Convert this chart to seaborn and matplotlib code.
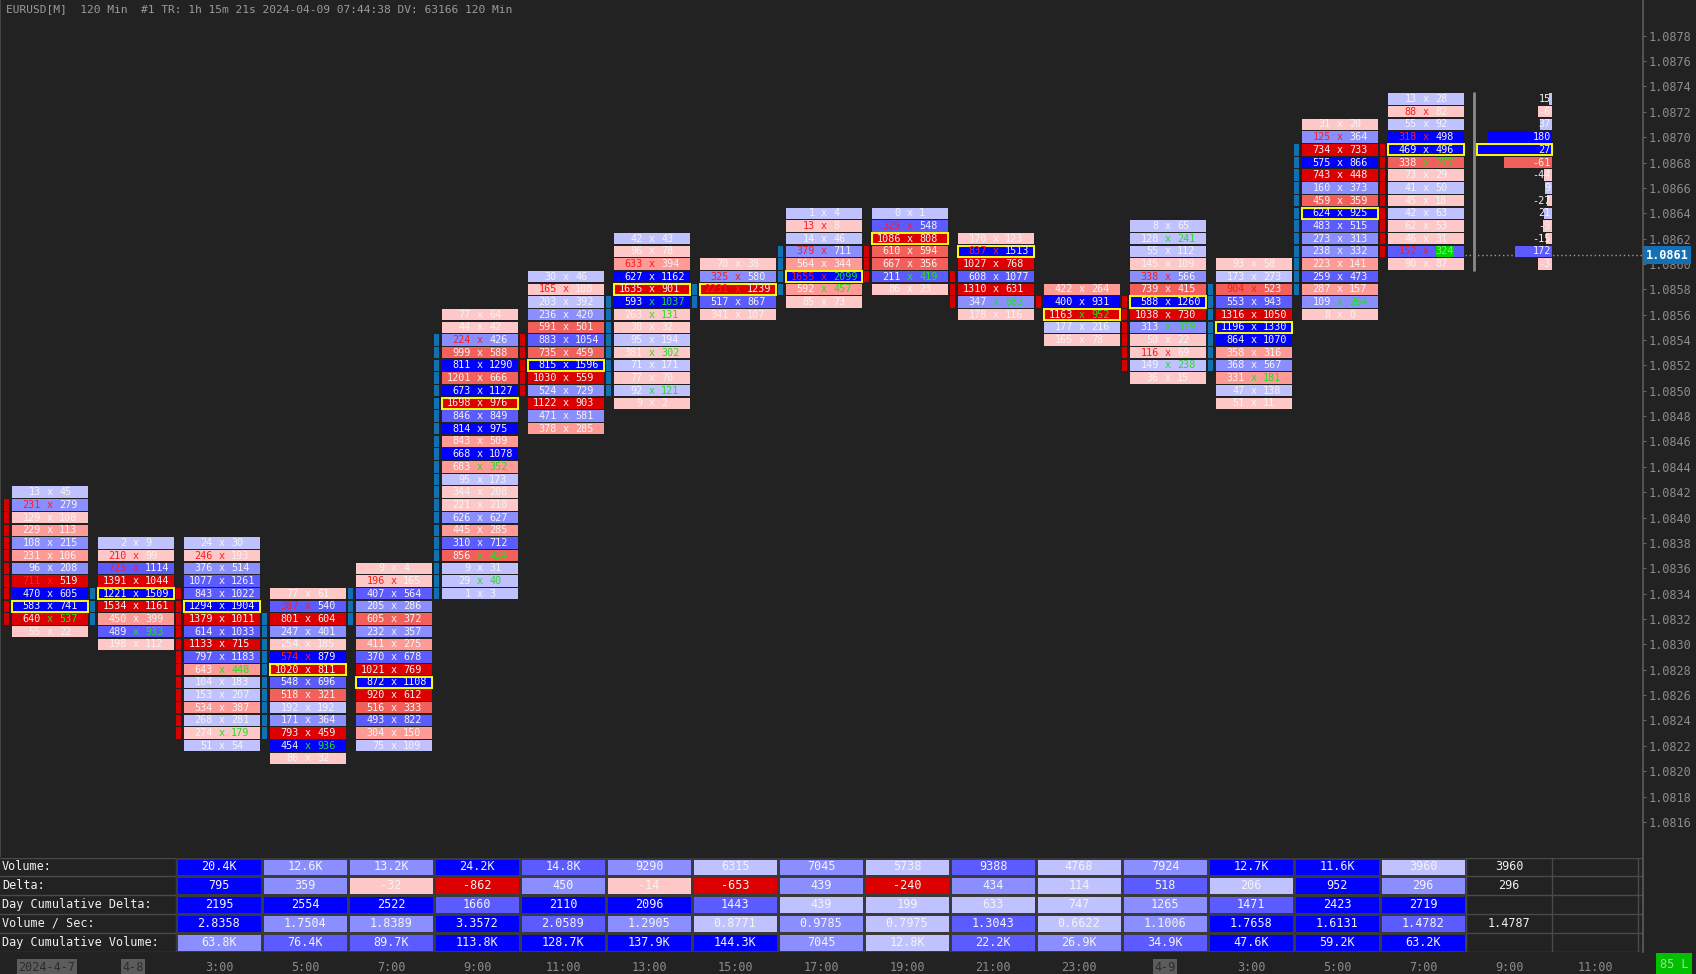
import matplotlib
matplotlib.use("Agg")
import matplotlib.pyplot as plt
from matplotlib.colors import ListedColormap
import numpy as np
import seaborn as sns

# ---------------------------------------------------------------- data
TICK = 0.0001
RATIO = 3.0

COL_TOP = [1.0842, 1.0838, 1.0838, 1.0834, 1.0836, 1.0856, 1.0859, 1.0862, 1.0860,
           1.0864, 1.0864, 1.0862, 1.0858, 1.0863, 1.0860, 1.0871, 1.0873]

C01_BID = [13, 231, 129, 229, 108, 231, 96, 711, 470, 583, 640, 55]
C01_ASK = [45, 279, 108, 113, 215, 106, 208, 519, 605, 741, 537, 22]
C02_BID = [2, 210, 725, 1391, 1221, 1534, 450, 489, 198]
C02_ASK = [9, 99, 1114, 1044, 1509, 1161, 399, 933, 112]
C03_BID = [24, 246, 376, 1077, 843, 1294, 1379, 614, 1133, 797, 643, 104, 153, 534, 268, 274, 51]
C03_ASK = [30, 193, 514, 1261, 1022, 1904, 1011, 1033, 715, 1183, 448, 183, 207, 387, 281, 179, 54]
C04_BID = [77, 387, 801, 247, 254, 574, 1020, 548, 518, 192, 171, 793, 454, 86]
C04_ASK = [61, 540, 604, 401, 185, 879, 811, 696, 321, 192, 364, 459, 936, 32]
C05_BID = [9, 196, 407, 205, 605, 232, 411, 370, 1021, 872, 920, 516, 493, 304, 75]
C05_ASK = [4, 165, 564, 286, 372, 357, 275, 678, 769, 1108, 612, 333, 822, 150, 109]
C06_BID = [77, 44, 224, 999, 811, 1201, 673, 1698, 846, 814, 843, 668, 683, 95, 344, 221,
           626, 445, 310, 856, 9, 29, 1]
C06_ASK = [64, 42, 426, 588, 1290, 666, 1127, 976, 849, 975, 509, 1078, 352, 173, 208, 210,
           627, 285, 712, 424, 31, 40, 3]
C07_BID = [30, 165, 203, 236, 591, 883, 735, 815, 1030, 524, 1122, 471, 378]
C07_ASK = [46, 108, 392, 420, 501, 1054, 459, 1596, 559, 729, 903, 581, 285]
C08_BID = [42, 96, 633, 627, 1635, 593, 263, 38, 95, 381, 71, 77, 92, 9]
C08_ASK = [43, 78, 394, 1162, 901, 1037, 131, 32, 194, 302, 171, 70, 121, 2]
C09_BID = [70, 325, 2231, 517, 341]
C09_ASK = [38, 580, 1239, 867, 107]
C10_BID = [1, 13, 14, 379, 564, 1655, 592, 85]
C10_ASK = [4, 8, 46, 711, 344, 2099, 457, 73]
C11_BID = [0, 329, 1086, 610, 667, 211, 86]
C11_ASK = [1, 548, 808, 594, 356, 419, 23]
C12_BID = [170, 837, 1027, 608, 1310, 347, 178]
C12_ASK = [123, 1513, 768, 1077, 631, 683, 116]
C13_BID = [422, 400, 1163, 177, 165]
C13_ASK = [264, 931, 952, 216, 78]
C14_BID = [8, 128, 55, 145, 338, 739, 588, 1038, 313, 50, 116, 149, 36]
C14_ASK = [65, 241, 112, 109, 566, 415, 1260, 730, 379, 22, 69, 238, 15]
C15_BID = [93, 173, 904, 553, 1316, 1196, 864, 358, 368, 331, 47, 51]
C15_ASK = [58, 273, 523, 943, 1050, 1330, 1070, 316, 567, 181, 138, 11]
C16_BID = [31, 125, 734, 575, 743, 160, 459, 624, 483, 273, 238, 223, 259, 287, 109, 8]
C16_ASK = [20, 364, 733, 866, 448, 373, 359, 925, 515, 313, 332, 141, 473, 157, 264, 0]
C17_BID = [13, 88, 55, 318, 469, 338, 73, 41, 45, 42, 62, 46, 152, 90]
C17_ASK = [28, 82, 92, 498, 496, 277, 29, 50, 18, 63, 53, 31, 324, 87]

BIDS = [C01_BID, C02_BID, C03_BID, C04_BID, C05_BID, C06_BID, C07_BID, C08_BID, C09_BID,
        C10_BID, C11_BID, C12_BID, C13_BID, C14_BID, C15_BID, C16_BID, C17_BID]
ASKS = [C01_ASK, C02_ASK, C03_ASK, C04_ASK, C05_ASK, C06_ASK, C07_ASK, C08_ASK, C09_ASK,
        C10_ASK, C11_ASK, C12_ASK, C13_ASK, C14_ASK, C15_ASK, C16_ASK, C17_ASK]

OPENS = [1.0841, 1.0832, 1.0834, 1.0823, 1.0832, 1.0834, 1.0854, 1.0850, 1.0857,
         1.0858, 1.0861, 1.0859, 1.0857, 1.0857, 1.0852, 1.0858, 1.0869]
CLOSES = [1.0832, 1.0834, 1.0823, 1.0832, 1.0834, 1.0854, 1.0850, 1.0857, 1.0858,
          1.0861, 1.0859, 1.0857, 1.0857, 1.0852, 1.0858, 1.0869, 1.0861]

CURRENT_PRICE = 1.08607
PROFILE_DELTA = [15, -6, 37, 180, 27, -61, -44, 9, -27, 21, -9, -15, 172, -3]

TIME_LABELS = ["2024-4-7", "4-8", "3:00", "5:00", "7:00", "9:00", "11:00", "13:00", "15:00",
               "17:00", "19:00", "21:00", "23:00", "4-9", "3:00", "5:00", "7:00", "9:00", "11:00"]
DATE_LABELS = ["2024-4-7", "4-8", "4-9"]

TABLE_ROWS = ["Volume:", "Delta:", "Day Cumulative Delta:", "Volume / Sec:", "Day Cumulative Volume:"]
VOLUME = [20400, 12600, 13200, 24200, 14800, 9290, 6315, 7045, 5738, 9388, 4768, 7924, 12700, 11600, 3960]
DELTA = [795, 359, -32, -862, 450, -14, -653, 439, -240, 434, 114, 518, 206, 952, 296]
DAY_CUM_DELTA = [2195, 2554, 2522, 1660, 2110, 2096, 1443, 439, 199, 633, 747, 1265, 1471, 2423, 2719]
VOL_PER_SEC = [2.8358, 1.7504, 1.8389, 3.3572, 2.0589, 1.2905, 0.8771, 0.9785, 0.7975, 1.3043,
               0.6622, 1.1006, 1.7658, 1.6131, 1.4782]
DAY_CUM_VOLUME = [63800, 76400, 89700, 113800, 128700, 137900, 144300, 7045, 12800, 22200,
                  26900, 34900, 47600, 59200, 63200]
VOLUME_SHADE = [4, 2, 2, 4, 3, 2, 1, 2, 1, 3, 1, 2, 4, 4, 1]
DELTA_SHADE = [4, 2, 1, 4, 2, 1, 4, 2, 4, 2, 1, 3, 1, 4, 2]
DCD_SHADE = [4, 4, 4, 3, 4, 4, 3, 1, 1, 1, 1, 2, 3, 4, 4]
VPS_SHADE = [4, 2, 2, 4, 3, 2, 1, 2, 1, 3, 1, 2, 4, 4, 3]
DCV_SHADE = [2, 3, 3, 4, 4, 4, 4, 2, 1, 3, 2, 3, 4, 4, 4]
LIVE_VOLUME = 3960
LIVE_DELTA = 296
LIVE_VPS = 1.4787

HEADER = "EURUSD[M]  120 Min  #1 TR: 1h 15m 21s 2024-04-09 07:44:38 DV: 63166 120 Min"
STATUS = "85 L"

# ---------------------------------------------------------------- style
sns.set_theme(style="dark")
BG = "#222222"
plt.rcParams["font.family"] = ["DejaVu Sans Mono", "DejaVu Sans"]
plt.rcParams["figure.facecolor"] = BG
plt.rcParams["axes.facecolor"] = BG

BLUES = {1: "#c0c2ff", 2: "#8b8eff", 3: "#5b5bff", 4: "#0000ff"}
REDS = {1: "#ffc8c8", 2: "#ff9b97", 3: "#f2605b", 4: "#dc0000"}
TXT = "#f4f4f4"
TXT_RED = "#ff1c1c"
TXT_GREEN = "#22e022"
YELLOW = "#ffff00"
STRIP_BLUE = "#1070b0"
STRIP_RED = "#d40000"
AXIS_TXT = "#8c8c8c"

W, H = 1696, 974
fig = plt.figure(figsize=(W / 100, H / 100), dpi=100)

PX_PER_TICK = 12.68
REF_PRICE, REF_PX = 1.0878, 35.7
COL0_PX, PITCH = 50.0, 86.0
MAIN_BOTTOM_PX = 856.0
AXIS_RIGHT_PX = 1643.0
TAB_TOP_PX, TAB_BOT_PX = 857.5, 951.5

p_top = REF_PRICE + REF_PX / PX_PER_TICK * TICK
p_bot = REF_PRICE - (MAIN_BOTTOM_PX - REF_PX) / PX_PER_TICK * TICK
x_lo = -COL0_PX / PITCH
x_hi = (AXIS_RIGHT_PX - COL0_PX) / PITCH

CELL_W = 76 / PITCH
ROW_H = 0.9 * TICK
TXT_OFF = 9.2 / PITCH
FS_CELL = 7.3


def level(frac):
    return 1 if frac < 0.25 else 2 if frac < 0.5 else 3 if frac < 0.75 else 4


def cell_colors(bids, asks):
    mb, ma = max(bids), max(asks)
    return [BLUES[level(a / ma)] if a >= b else REDS[level(b / mb)] for b, a in zip(bids, asks)]


ax = fig.add_axes([0, 1 - MAIN_BOTTOM_PX / H, AXIS_RIGHT_PX / W, MAIN_BOTTOM_PX / H])
ax.set_xlim(x_lo, x_hi)
ax.set_ylim(p_bot, p_top)
ax.set_facecolor(BG)
ax.grid(False)

live_row_price = round(CURRENT_PRICE, 4)

# ---------------------------------------------------------------- footprint columns
for c, (bids, asks) in enumerate(zip(BIDS, ASKS)):
    n = len(bids)
    prices = COL_TOP[c] - TICK * np.arange(n)
    colors = cell_colors(bids, asks)
    ax.barh(prices, CELL_W, left=c - CELL_W / 2, height=ROW_H, color=colors, linewidth=0, zorder=2)
    vol = np.array(bids) + np.array(asks)
    poc = int(np.argmax(vol))
    ax.barh(prices[poc], CELL_W, left=c - CELL_W / 2, height=ROW_H * 0.97, fill=False,
            edgecolor=YELLOW, linewidth=1.4, zorder=3)
    is_live = c == len(BIDS) - 1
    for i in range(n):
        bid_imb = i > 0 and bids[i] >= RATIO * asks[i - 1]
        ask_imb = i < n - 1 and asks[i] >= RATIO * bids[i + 1]
        bc = TXT_RED if bid_imb else TXT
        ac = TXT_GREEN if ask_imb else TXT
        xc = TXT_RED if bid_imb else (TXT_GREEN if ask_imb else TXT)
        y = prices[i]
        if is_live and abs(y - live_row_price) < TICK / 4:
            # current ask highlighted on the live bar
            ax.barh(y, 18 / PITCH, left=c + 10 / PITCH, height=ROW_H, color="#00d400",
                    linewidth=0, zorder=3)
            ac = "#6dff6d"
        ax.text(c - TXT_OFF, y, str(bids[i]), ha="right", va="center", color=bc, fontsize=FS_CELL, zorder=4)
        ax.text(c, y, "x", ha="center", va="center", color=xc, fontsize=FS_CELL, zorder=4)
        ax.text(c + TXT_OFF, y, str(asks[i]), ha="left", va="center", color=ac, fontsize=FS_CELL, zorder=4)
    # candle body strip
    lo, hi = min(OPENS[c], CLOSES[c]), max(OPENS[c], CLOSES[c])
    cnt = int(round((hi - lo) / TICK)) + 1
    sp = lo + TICK * np.arange(cnt)
    scol = STRIP_BLUE if CLOSES[c] > OPENS[c] else STRIP_RED
    ax.barh(sp, 5 / PITCH, left=c - 46 / PITCH, height=ROW_H, color=scol, linewidth=0, zorder=2)

# ---------------------------------------------------------------- delta profile of the live bar
last = len(BIDS) - 1
lb, la = np.array(BIDS[last]), np.array(ASKS[last])
lprices = COL_TOP[last] - TICK * np.arange(len(lb))
lvol = lb + la
PROF_RIGHT = (1551.7 - COL0_PX) / PITCH
PROF_W = 75 / PITCH
widths = PROF_W * lvol / lvol.max()
ax.barh(lprices, widths, left=PROF_RIGHT - widths, height=ROW_H,
        color=cell_colors(BIDS[last], ASKS[last]), linewidth=0, zorder=2)
ppoc = int(np.argmax(lvol))
ax.barh(lprices[ppoc], PROF_W, left=PROF_RIGHT - PROF_W, height=ROW_H * 0.97, fill=False,
        edgecolor=YELLOW, linewidth=1.4, zorder=3)
for y, d in zip(lprices, PROFILE_DELTA):
    ax.text(PROF_RIGHT - 1 / PITCH, y, str(d), ha="right", va="center", color=TXT, fontsize=FS_CELL, zorder=4)
sep_x = (1474 - COL0_PX) / PITCH
ax.plot([sep_x, sep_x], [lprices[-1] - TICK / 2, lprices[0] + TICK / 2], color="#8a8a8a", lw=2, zorder=3)
ax.plot([(1465 - COL0_PX) / PITCH, x_hi], [CURRENT_PRICE, CURRENT_PRICE], color="#9a9a9a",
        lw=1, dashes=(1, 2), zorder=1)

# ---------------------------------------------------------------- price axis
ax.yaxis.tick_right()
ticks = np.round(np.arange(1.0816, 1.08781, 0.0002), 4)
ax.set_yticks(ticks)
ax.set_yticklabels([f"{t:.4f}" for t in ticks])
ax.tick_params(axis="y", colors="#666666", labelcolor=AXIS_TXT, labelsize=8.6, length=2.5, pad=1.5, width=0.8)
ax.set_xticks([])
for s in ["top", "bottom"]:
    ax.spines[s].set_visible(False)
ax.spines["right"].set_color("#5a5a5a")
ax.spines["left"].set_color("#4a4a4a")
ax.annotate(f"{CURRENT_PRICE:.4f}", xy=(1, CURRENT_PRICE), xycoords=("axes fraction", "data"),
            xytext=(2.2, 0), textcoords="offset points", ha="left", va="center", color="white",
            fontsize=8.6, fontweight="bold", zorder=6,
            bbox=dict(boxstyle="square,pad=0.22", fc="#1470b4", ec="none"))

# ---------------------------------------------------------------- statistics table
tab = fig.add_axes([0, 1 - TAB_BOT_PX / H, AXIS_RIGHT_PX / W, (TAB_BOT_PX - TAB_TOP_PX) / H])
tab.set_xlim(x_lo, x_hi)
tab.set_ylim(5, 0)
tab.set_facecolor(BG)
tab.grid(False)
for s in ["top", "bottom", "left"]:
    tab.spines[s].set_visible(False)
tab.spines["right"].set_color("#5a5a5a")
for r in range(6):
    tab.plot([x_lo, x_hi], [r, r], color="#4a4a4a", lw=1, zorder=1)
for c in range(2, 20):
    tab.plot([c - 46 / PITCH] * 2, [0, 5], color="#4a4a4a", lw=1, zorder=1)
for r, lab in enumerate(TABLE_ROWS):
    tab.text(x_lo + 2 / PITCH, r + 0.5, lab, ha="left", va="center", color="#f0f0f0", fontsize=8.5)
live = [str(LIVE_VOLUME), str(LIVE_DELTA), "", f"{LIVE_VPS:.4f}", ""]
for r, s in enumerate(live):
    tab.text(17 - 3 / PITCH, r + 0.5, s, ha="center", va="center", color="#f0f0f0", fontsize=8.5)
tab.set_yticks([])
tab.set_xticks([c - 3 / PITCH for c in range(len(TIME_LABELS))])
tab.set_xticklabels(TIME_LABELS)
tab.tick_params(axis="x", colors="#666666", labelcolor=AXIS_TXT, labelsize=8.5, length=3, pad=3.5)
for lbl, t in zip(tab.get_xticklabels(), TIME_LABELS):
    if t in DATE_LABELS:
        lbl.set_bbox(dict(facecolor="#5c5c5c", edgecolor="none", pad=1.2))
        lbl.set_color("#2c2c2c")


def kfmt(v):
    return f"{v / 1000:.1f}K" if v >= 10000 else f"{int(v)}"


txt = np.array([
    [kfmt(v) for v in VOLUME],
    [str(v) for v in DELTA],
    [str(v) for v in DAY_CUM_DELTA],
    [f"{v:.4f}" for v in VOL_PER_SEC],
    [kfmt(v) for v in DAY_CUM_VOLUME],
])
signs = np.array([np.ones(15), np.sign(DELTA), np.sign(DAY_CUM_DELTA), np.ones(15), np.ones(15)])
levels = np.array([VOLUME_SHADE, DELTA_SHADE, DCD_SHADE, VPS_SHADE, DCV_SHADE])
idx = np.where(signs > 0, levels + 3, 4 - levels)
cmap = ListedColormap([REDS[4], REDS[3], REDS[2], REDS[1], BLUES[1], BLUES[2], BLUES[3], BLUES[4]])
hm_left = COL0_PX + 2 * PITCH - 46
hm = fig.add_axes([hm_left / W, 1 - TAB_BOT_PX / H, 15 * PITCH / W, (TAB_BOT_PX - TAB_TOP_PX) / H])
sns.heatmap(idx, annot=txt, fmt="", cmap=cmap, vmin=-0.5, vmax=7.5, cbar=False,
            linewidths=1, linecolor="#3a3a3a", xticklabels=False, yticklabels=False,
            annot_kws=dict(color="#f4f4f4", fontsize=8.5), ax=hm)
hm.set_facecolor("none")

# ---------------------------------------------------------------- header / status
fig.text(6 / W, 1 - 9 / H, HEADER, ha="left", va="center", color="#9a9a9a", fontsize=8.1)
fig.text(1674 / W, 1 - 964 / H, STATUS, ha="center", va="center", color="#9ee09e", fontsize=8.5,
         bbox=dict(boxstyle="square,pad=0.35", fc="#00c000", ec="none"))

fig.savefig("out.png", dpi=100, facecolor=BG)
